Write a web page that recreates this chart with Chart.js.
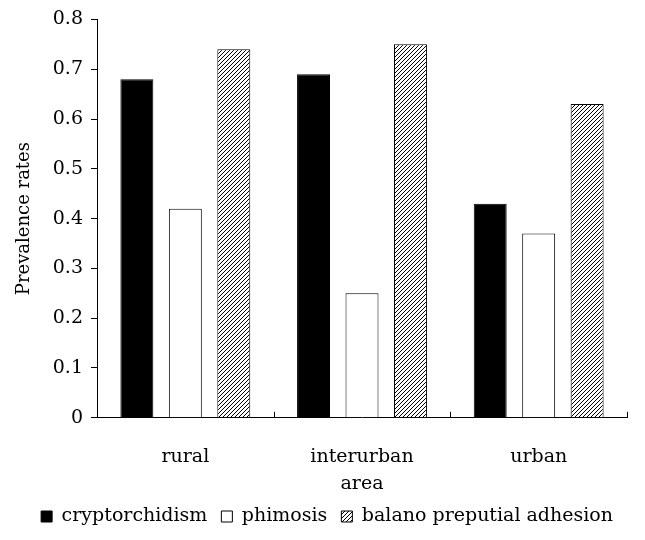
<!DOCTYPE html>
<html><head><meta charset="utf-8">
<script src="https://cdn.jsdelivr.net/npm/chart.js@4.4.1/dist/chart.umd.min.js"></script>
<style>html,body{margin:0;padding:0;background:#fff;}#wrap{width:645px;height:540px;}</style>
</head><body><div id="wrap"><canvas id="c" width="645" height="540"></canvas></div>
<script>
const categories = ["rural", ["interurban", "area"], "urban"];
const seriesNames = ["cryptorchidism", "phimosis", "balano preputial adhesion"];
const cryptorchidism = [0.68, 0.69, 0.43];
const phimosis = [0.42, 0.25, 0.37];
const balanoPreputialAdhesion = [0.74, 0.75, 0.63];
const yTicks = [0, 0.1, 0.2, 0.3, 0.4, 0.5, 0.6, 0.7, 0.8];

function hatch() {
  const s = 4;
  const cv = document.createElement('canvas');
  cv.width = s; cv.height = s;
  const g = cv.getContext('2d');
  g.fillStyle = '#fff'; g.fillRect(0, 0, s, s);
  g.strokeStyle = '#000'; g.lineWidth = 1;
  g.beginPath();
  g.moveTo(0, s); g.lineTo(s, 0);
  g.moveTo(-1, 1); g.lineTo(1, -1);
  g.moveTo(s - 1, s + 1); g.lineTo(s + 1, s - 1);
  g.stroke();
  return g.createPattern(cv, 'repeat');
}
const ctx = document.getElementById('c').getContext('2d');
const hp = hatch();
const font = "'DejaVu Serif', serif";
const PADL = 14;

const xTicksPlugin = {
  id: 'xticks',
  afterDraw(chart) {
    const xs = chart.scales.x, c = chart.ctx;
    const y = chart.chartArea.bottom;
    c.save(); c.strokeStyle = '#000'; c.lineWidth = 1;
    const n = categories.length;
    for (let i = 0; i < n; i++) {
      let x = i < n - 1 ? (xs.getPixelForValue(i) + xs.getPixelForValue(i + 1)) / 2 : chart.chartArea.right;
      x = Math.round(x) + 0.5;
      c.beginPath(); c.moveTo(x, y); c.lineTo(x, y - 6); c.stroke();
    }
    c.restore();
  }
};

new Chart(ctx, {
  type: 'bar',
  data: {
    labels: categories,
    datasets: [
      { label: seriesNames[0], data: cryptorchidism, backgroundColor: '#000', borderColor: '#000', borderWidth: 1 },
      { label: seriesNames[1], data: phimosis, backgroundColor: '#fff', borderColor: '#000', borderWidth: 1 },
      { label: seriesNames[2], data: balanoPreputialAdhesion, backgroundColor: hp, borderColor: '#000', borderWidth: 1 }
    ]
  },
  options: {
    responsive: false,
    animation: false,
    devicePixelRatio: 1,
    categoryPercentage: 0.823,
    barPercentage: 0.68,
    layout: { padding: { left: PADL, right: 18, top: 8, bottom: 4 } },
    plugins: {
      tooltip: { enabled: false },
      legend: {
        position: 'bottom',
        align: 'end',
        labels: {
          color: '#000',
          font: { family: font, size: 19 },
          boxWidth: 11, boxHeight: 11,
          padding: 14,
          generateLabels(chart) {
            return chart.data.datasets.map((d, i) => ({
              text: d.label, fillStyle: d.backgroundColor, strokeStyle: '#000', lineWidth: 1,
              datasetIndex: i, hidden: false
            }));
          }
        }
      }
    },
    scales: {
      x: {
        grid: { display: false },
        border: { display: true, color: '#000', width: 1 },
        afterFit(s) { s.height = s.height - 22; },
        ticks: { color: '#000', font: { family: font, size: 19, lineHeight: 1.4 }, padding: 18, maxRotation: 0 }
      },
      y: {
        min: 0, max: 0.8,
        afterBuildTicks(s) { s.ticks = yTicks.map(v => ({ value: v })); },
        afterFit(s) { s.width = 97 - PADL; },
        grid: { display: true, drawOnChartArea: false, drawTicks: true, tickLength: 6, color: '#000' },
        border: { display: true, color: '#000', width: 1 },
        ticks: { color: '#000', font: { family: font, size: 19 }, padding: 8,
          callback: v => v === 0 ? '0' : v.toFixed(1) },
        title: { display: true, text: 'Prevalence rates', color: '#000', font: { family: font, size: 18 }, padding: 0 }
      }
    }
  },
  plugins: [xTicksPlugin]
});
</script></body></html>
